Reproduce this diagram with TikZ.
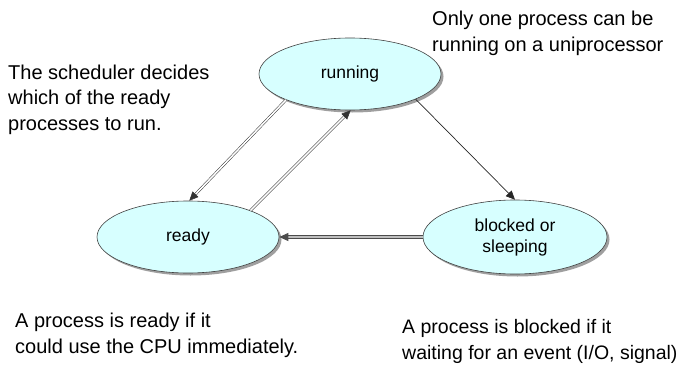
\documentclass[tikz,border=0pt]{standalone}
\usepackage{fontspec}
\setmainfont{Liberation Sans}
\usetikzlibrary{shapes.geometric,arrows.meta,shadows}
\definecolor{statefill}{RGB}{215,255,255}
\begin{document}
\begin{tikzpicture}[x=1pt,y=-1pt,
  state/.style={ellipse, draw=black!75, line width=0.6pt, fill=statefill,
    inner sep=0pt, minimum width=182pt, minimum height=72pt,
    font=\fontsize{17.5}{21}\selectfont, align=center,
    drop shadow={shadow xshift=2.5pt, shadow yshift=-2.5pt, fill=gray!75, opacity=1}},
  note/.style={anchor=base west, inner sep=0pt, align=left,
    font=\fontsize{20}{25.5}\selectfont},
  tip/.style={-{Triangle[length=9pt,width=8pt]}},
  dbl/.style={tip, double=white, draw=black!80, line width=0.5pt, double distance=1.6pt},
  grayline/.style={tip, double=gray!50, draw=black!70, line width=0.8pt, double distance=1.6pt},
  thin/.style={tip, draw=black!85, line width=0.7pt}]
\useasboundingbox (0,0) rectangle (682,364);
\node[state] (run) at (350,74) {running};
\node[state] (rdy) at (188,237) {ready};
\node[state, minimum width=184pt, minimum height=74pt] (blk) at (515,237) {blocked or\\sleeping};

\draw[dbl] (run.202) -- (rdy.88);
\draw[dbl] (rdy.23) -- (run.271);
\draw[thin] (run.339) -- (blk.90);
\draw[grayline] (blk.west) -- (rdy.east);

\node[note] (n1) at (432,51) {Only one process can be\\running on a uniprocessor};
\node[note] (n2) at (8,130) {The scheduler decides\\which of the ready\\processes to run.};
\node[note] (n3) at (15,353) {A process is ready if it\\could use the CPU immediately.};
\node[note, font=\fontsize{19.5}{25.5}\selectfont] (n4) at (402,359) {A process is blocked if it\\waiting for an event (I/O, signal)};
\end{tikzpicture}
\end{document}
